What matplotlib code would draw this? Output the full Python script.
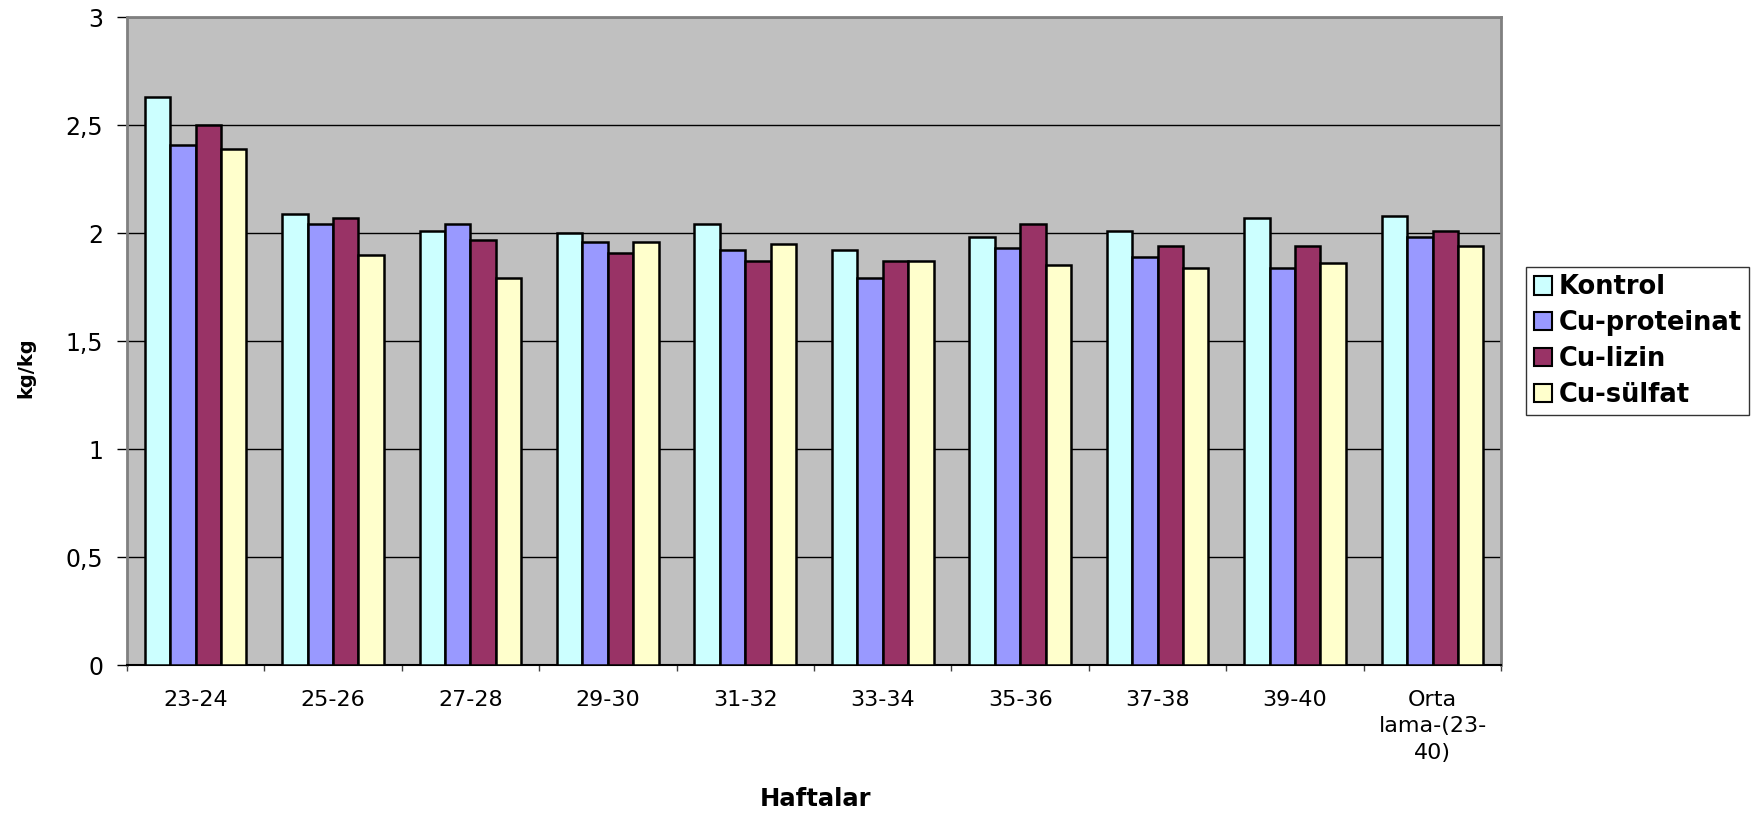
import numpy as np
import matplotlib.pyplot as plt
from matplotlib.ticker import FuncFormatter, FixedLocator

plt.rcParams['font.family'] = ['DejaVu Sans']

haftalar = ['23-24', '25-26', '27-28', '29-30', '31-32', '33-34',
            '35-36', '37-38', '39-40', 'Orta\nlama-(23-\n40)']
kontrol = [2.63, 2.09, 2.01, 2.00, 2.04, 1.92, 1.98, 2.01, 2.07, 2.08]
cu_proteinat = [2.41, 2.04, 2.04, 1.96, 1.92, 1.79, 1.93, 1.89, 1.84, 1.98]
cu_lizin = [2.50, 2.07, 1.97, 1.91, 1.87, 1.87, 2.04, 1.94, 1.94, 2.01]
cu_sulfat = [2.39, 1.90, 1.79, 1.96, 1.95, 1.87, 1.85, 1.84, 1.86, 1.94]

seriler = [('Kontrol', kontrol, '#CCFFFF'),
           ('Cu-proteinat', cu_proteinat, '#9999FF'),
           ('Cu-lizin', cu_lizin, '#993366'),
           ('Cu-sülfat', cu_sulfat, '#FFFFCC')]

fig = plt.figure(figsize=(17.62, 8.16), dpi=100)
ax = fig.add_axes([0.072, 0.185, 0.78, 0.794])
ax.set_facecolor('#C0C0C0')

x = np.arange(len(haftalar))
w = 0.185
for i, (ad, deger, renk) in enumerate(seriler):
    ax.bar(x + (i - 1.5) * w, deger, w, color=renk, edgecolor='black',
           linewidth=1.8, label=ad, zorder=3)

ax.set_xlim(-0.5, len(haftalar) - 0.5)
ax.set_ylim(0, 3)
ax.set_yticks(np.arange(0, 3.01, 0.5))
ax.yaxis.set_major_formatter(FuncFormatter(lambda v, p: ('%g' % v).replace('.', ',')))
ax.grid(axis='y', color='black', linewidth=1.0, zorder=1)

ax.set_xticks(x)
ax.set_xticklabels(haftalar, fontsize=16, linespacing=1.4)
ax.xaxis.set_minor_locator(FixedLocator(np.arange(-0.5, len(haftalar), 1)))
ax.tick_params(axis='x', which='major', length=0, pad=18)
ax.tick_params(axis='x', which='minor', length=4.5, width=1, color='#404040', direction='out')
ax.tick_params(axis='y', length=7, width=1, labelsize=17, pad=10, color='black')

for s in ['left', 'top', 'right']:
    ax.spines[s].set_color('#808080')
    ax.spines[s].set_linewidth(2)
ax.spines['bottom'].set_color('black')
ax.spines['bottom'].set_linewidth(1.5)

fig.text(0.0145, 0.549, 'kg/kg', fontsize=14, fontweight='bold',
         rotation=90, ha='center', va='center')
fig.text(0.463, 0.012, 'Haftalar', fontsize=17.5, fontweight='bold', ha='center')

leg = ax.legend(loc='center left', bbox_to_anchor=(1.018, 0.5),
                prop={'weight': 'bold', 'size': 18.5}, frameon=True, fancybox=False,
                edgecolor='black', handlelength=0.72, handleheight=0.72,
                handletextpad=0.25, labelspacing=0.38, borderpad=0.3,
                borderaxespad=0)
leg.get_frame().set_linewidth(1.0)
for h in leg.legend_handles:
    h.set_linewidth(1.5)

fig.savefig('out.png', dpi=100)
